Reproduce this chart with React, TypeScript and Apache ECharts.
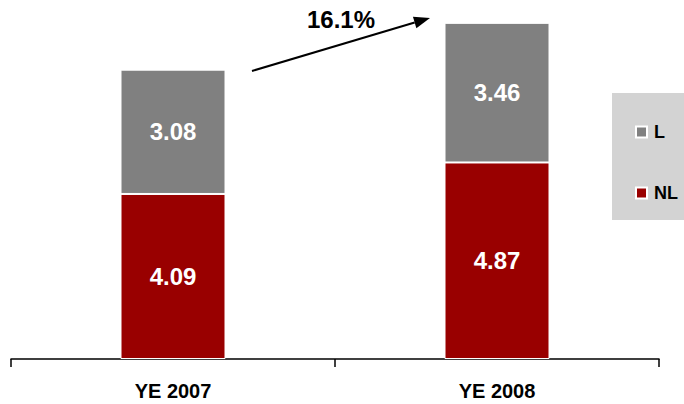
import React, { useEffect, useRef } from "react";
import * as echarts from "echarts";

const categories = ["YE 2007", "YE 2008"];
const nlValues = [4.09, 4.87];
const lValues = [3.08, 3.46];
const growthLabel = "16.1%";

export default function App() {
  const ref = useRef<HTMLDivElement>(null);
  useEffect(() => {
    if (!ref.current) return;
    const chart = echarts.init(ref.current, null, { renderer: "svg" });
    const font = "Liberation Sans, Arial, sans-serif";
    const ux = 178, uy = -53;
    const len = Math.sqrt(ux * ux + uy * uy);
    const dx = ux / len, dy = uy / len;
    const tip = [430, 18];
    const base = [tip[0] - 16 * dx, tip[1] - 16 * dy];
    const px = -dy, py = dx;
    chart.setOption({
      animation: false,
      grid: { left: 11, right: 25, top: 16, bottom: 45 },
      xAxis: {
        type: "category",
        data: categories,
        axisLine: { lineStyle: { color: "#000", width: 1.5 } },
        axisTick: { show: true, length: 8, lineStyle: { color: "#000", width: 1.5 } },
        axisLabel: { color: "#000", fontSize: 20, fontWeight: "bold", fontFamily: font, margin: 22 },
      },
      yAxis: { type: "value", min: 0, max: 8.5, show: false, splitLine: { show: false } },
      legend: {
        orient: "vertical",
        left: 630,
        top: 118,
        itemGap: 43,
        itemWidth: 11,
        itemHeight: 11,
        icon: "rect",
        data: ["L", "NL"],
        itemStyle: { borderColor: "#fff", borderWidth: 2 },
        textStyle: { color: "#000", fontSize: 18, fontWeight: "bold", fontFamily: font, padding: [0, 0, 0, 2] },
      },
      graphic: [
        { type: "rect", left: 612, top: 93, z: -1, shape: { width: 72, height: 127 }, style: { fill: "#d3d3d3" } },
        {
          type: "line",
          shape: { x1: 252, y1: 71, x2: base[0], y2: base[1] },
          style: { stroke: "#000", lineWidth: 2 },
        },
        {
          type: "polygon",
          shape: {
            points: [
              tip,
              [base[0] + 6 * px, base[1] + 6 * py],
              [base[0] - 6 * px, base[1] - 6 * py],
            ],
          },
          style: { fill: "#000" },
        },
        {
          type: "text",
          x: 341,
          y: 19,
          style: {
            text: growthLabel,
            fill: "#000",
            font: `bold 24px ${font}`,
            align: "center",
            verticalAlign: "middle",
          },
        },
      ],
      series: [
        {
          name: "NL",
          type: "bar",
          stack: "total",
          barWidth: 105,
          data: nlValues,
          itemStyle: { color: "#990000", borderColor: "#fff", borderWidth: 1 },
          label: { show: true, position: "inside", color: "#fff", fontSize: 24, fontWeight: "bold", fontFamily: font, formatter: (p: any) => p.value.toFixed(2) },
        },
        {
          name: "L",
          type: "bar",
          stack: "total",
          barWidth: 105,
          data: lValues,
          itemStyle: { color: "#808080", borderColor: "#fff", borderWidth: 1 },
          label: { show: true, position: "inside", color: "#fff", fontSize: 24, fontWeight: "bold", fontFamily: font, formatter: (p: any) => p.value.toFixed(2) },
        },
      ],
    });
    return () => chart.dispose();
  }, []);
  return <div ref={ref} style={{ width: 684, height: 404, position: "absolute", left: 0, top: 0 }} />;
}
